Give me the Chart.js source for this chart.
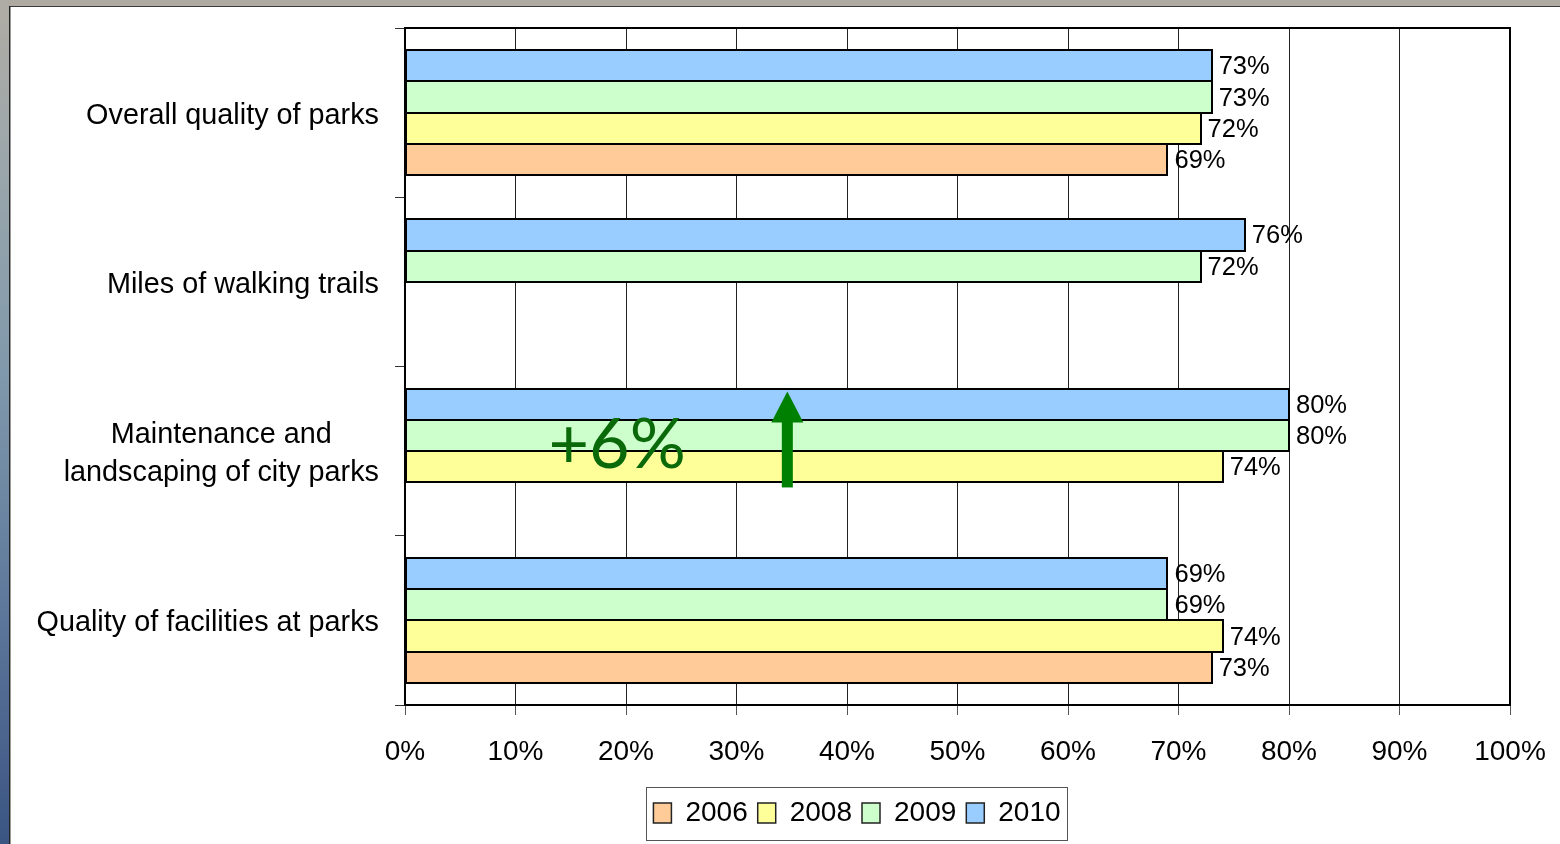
<!DOCTYPE html>
<html>
<head>
<meta charset="utf-8">
<title>Parks ratings</title>
<script src="https://cdn.jsdelivr.net/npm/chart.js@4.4.1/dist/chart.umd.min.js"></script>
<style>
  html, body { margin: 0; padding: 0; width: 1560px; height: 844px; overflow: hidden; background: #fff; }
  #topbar { position: absolute; left: 0; top: 0; width: 1560px; height: 6px; background: #aeaaa2; border-bottom: 1px solid #3a3a3a; }
  #sidebar { position: absolute; left: 0; top: 0; width: 9px; height: 844px;
    background: linear-gradient(#b0aca4 0%, #9aa6ab 20%, #7f98ab 45%, #5f7a9c 70%, #3b5583 100%); }
  #sideline { position: absolute; left: 9px; top: 6px; width: 1px; height: 838px; background: #222; }
  #sideline2 { position: absolute; left: 10px; top: 7px; width: 1px; height: 837px; background: #9a9a9a; }
  #wrap { position: absolute; left: 11px; top: 8px; width: 1549px; height: 836px; }
</style>
</head>
<body>
<div id="topbar"></div>
<div id="sidebar"></div>
<div id="sideline"></div>
<div id="sideline2"></div>
<div id="wrap"><canvas id="chart"></canvas></div>
<script>
// Survey items, top to bottom
const categories = [
  'Overall quality of parks',
  'Miles of walking trails',
  ['Maintenance and', 'landscaping of city parks'],
  'Quality of facilities at parks'
];

// Share of satisfied residents (%) per survey year; null = not asked that year
const values2010 = [73, 76, 80, 69];
const values2009 = [73, 72, 80, 69];
const values2008 = [72, null, 74, 74];
const values2006 = [69, null, null, 73];

const xTickLabels = ['0%', '10%', '20%', '30%', '40%', '50%', '60%', '70%', '80%', '90%', '100%'];

// Call-out on the maintenance item
const changeNote = '+6%';

const FONT = '"Liberation Sans", Arial, Helvetica, sans-serif';
Chart.defaults.font.family = FONT;
Chart.defaults.color = '#000';

// Crisp 2px outline around every bar, drawn from the bar elements
const barOutline = {
  id: 'barOutline',
  afterDatasetsDraw(chart) {
    const ctx = chart.ctx;
    ctx.save();
    ctx.strokeStyle = '#000';
    ctx.lineWidth = 2;
    chart.data.datasets.forEach((ds, di) => {
      chart.getDatasetMeta(di).data.forEach((bar, i) => {
        const v = ds.data[i];
        if (v === null || v === undefined) return;
        const x0 = Math.round(bar.base), x1 = Math.round(bar.x);
        const y0 = Math.round(bar.y - bar.height / 2), y1 = Math.round(bar.y + bar.height / 2);
        ctx.strokeRect(x0, y0, x1 - x0, y1 - y0);
      });
    });
    ctx.restore();
  }
};

// Value labels at the end of each bar
const valueLabels = {
  id: 'valueLabels',
  afterDatasetsDraw(chart) {
    const ctx = chart.ctx;
    ctx.save();
    ctx.font = '25.5px ' + FONT;
    ctx.fillStyle = '#000';
    ctx.textAlign = 'left';
    ctx.textBaseline = 'middle';
    chart.data.datasets.forEach((ds, di) => {
      const meta = chart.getDatasetMeta(di);
      meta.data.forEach((bar, i) => {
        const v = ds.data[i];
        if (v === null || v === undefined) return;
        ctx.fillText(Math.round(v) + '%', bar.x + 7, bar.y + 1.5);
      });
    });
    ctx.restore();
  }
};

// Top and right edges of the plot frame
const plotFrame = {
  id: 'plotFrame',
  beforeDatasetsDraw(chart) {
    const {ctx, chartArea: a} = chart;
    ctx.save();
    ctx.strokeStyle = '#000';
    ctx.lineWidth = 2;
    ctx.beginPath();
    ctx.moveTo(a.left, a.top);
    ctx.lineTo(a.right, a.top);
    ctx.lineTo(a.right, a.bottom);
    ctx.stroke();
    ctx.restore();
  }
};

// Category labels: right-aligned block, lines of a wrapped label centred on each other
const categoryLabels = {
  id: 'categoryLabels',
  afterDraw(chart) {
    const {ctx, chartArea: a} = chart;
    const ys = chart.scales.y;
    ctx.save();
    ctx.font = '28.8px ' + FONT;
    ctx.fillStyle = '#000';
    ctx.textAlign = 'center';
    ctx.textBaseline = 'middle';
    const right = a.left - 26;
    const lineH = 38;
    chart.data.labels.forEach((lab, i) => {
      const lines = Array.isArray(lab) ? lab : [lab];
      const w = Math.max(...lines.map(s => ctx.measureText(s).width));
      const yc = ys.getPixelForTick(i);
      lines.forEach((s, j) => {
        ctx.fillText(s, right - w / 2, yc + 3 + (j - (lines.length - 1) / 2) * lineH);
      });
    });
    ctx.restore();
  }
};

// Legend placement and its surrounding box
const legendBox = {
  id: 'legendBox',
  afterUpdate(chart, args, opts) {
    const lg = chart.legend;
    if (!lg || !lg.legendHitBoxes || !lg.legendHitBoxes.length) return;
    const hb = lg.legendHitBoxes;
    const l = Math.min(...hb.map(h => h.left));
    const r = Math.max(...hb.map(h => h.left + h.width));
    const t = Math.min(...hb.map(h => h.top));
    const b = Math.max(...hb.map(h => h.top + h.height));
    const dx = opts.cx - (l + r) / 2;
    const dy = opts.cy - (t + b) / 2;
    lg.left += dx; lg.right += dx; lg.top += dy; lg.bottom += dy;
    hb.forEach(h => { h.left += dx; h.top += dy; });
  },
  afterDraw(chart, args, opts) {
    const lg = chart.legend;
    if (!lg || !lg.legendHitBoxes || !lg.legendHitBoxes.length) return;
    const hb = lg.legendHitBoxes;
    const l = Math.min(...hb.map(h => h.left)) - 7;
    const r = Math.max(...hb.map(h => h.left + h.width)) + 7;
    const ctx = chart.ctx;
    ctx.save();
    ctx.strokeStyle = '#555';
    ctx.lineWidth = 1;
    ctx.strokeRect(Math.round(l) + 0.5, Math.round(opts.cy - opts.h / 2) + 0.5,
                   Math.round(r - l), opts.h);
    ctx.restore();
  }
};

// "+6%" note with an upward arrow, placed in data space
const changeCallout = {
  id: 'changeCallout',
  afterDatasetsDraw(chart, args, opts) {
    const {ctx} = chart;
    const xs = chart.scales.x;
    const idx = opts.category;
    const topBar = chart.getDatasetMeta(0).data[idx];       // 2010
    const lowBar = chart.getDatasetMeta(2).data[idx];       // 2008
    const tipY = topBar.y - topBar.height / 2 + 3;
    const baseY = lowBar.y + lowBar.height / 2 + 5;
    const ax = xs.getPixelForValue(opts.arrowAt);
    ctx.save();
    ctx.fillStyle = '#008000';
    // shaft
    ctx.fillRect(ax - 5.5, tipY + 28, 11, baseY - tipY - 28);
    // head
    ctx.beginPath();
    ctx.moveTo(ax, tipY);
    ctx.lineTo(ax + 16, tipY + 31);
    ctx.lineTo(ax - 16, tipY + 31);
    ctx.closePath();
    ctx.fill();
    // note text
    ctx.fillStyle = '#0a6a0a';
    ctx.font = '400 70px Lato, "Open Sans", sans-serif';
    ctx.textAlign = 'center';
    ctx.textBaseline = 'alphabetic';
    ctx.fillText(changeNote, xs.getPixelForValue(opts.noteAt), lowBar.y + 1);
    ctx.restore();
  }
};

const data = {
  labels: categories,
  datasets: [
    { label: '2010', data: values2010, backgroundColor: '#99ccff' },
    { label: '2009', data: values2009, backgroundColor: '#ccffcc' },
    { label: '2008', data: values2008, backgroundColor: '#ffff99' },
    { label: '2006', data: values2006, backgroundColor: '#ffcc99' }
  ].map(d => Object.assign(d, {
    borderColor: '#000',
    borderWidth: 0,
    categoryPercentage: 0.74,
    barPercentage: 1
  }))
};

new Chart(document.getElementById('chart'), {
  type: 'bar',
  data,
  plugins: [plotFrame, barOutline, valueLabels, categoryLabels, legendBox, changeCallout],
  options: {
    indexAxis: 'y',
    responsive: true,
    maintainAspectRatio: false,
    animation: false,
    devicePixelRatio: 1,
    layout: { padding: { top: 20, right: 50, left: 0, bottom: 0 } },
    scales: {
      x: {
        min: 0,
        max: 100,
        ticks: {
          stepSize: 10,
          autoSkip: false,
          maxRotation: 0,
          padding: 20,
          color: '#000',
          font: { size: 28 },
          callback: (v, i) => xTickLabels[i]
        },
        grid: { color: '#222', lineWidth: 1, tickLength: 10, tickColor: '#555' },
        border: { color: '#000', width: 2 },
        afterFit(scale) {
          const lg = scale.chart.legend;
          scale.height = 139 - (lg ? lg.height : 0);
          // the right margin comes from the layout padding alone
          scale.paddingLeft = 0;
          scale.paddingRight = 0;
        }
      },
      y: {
        ticks: { display: false },
        grid: { drawOnChartArea: false, tickLength: 10, color: '#333', lineWidth: 1 },
        border: { color: '#000', width: 2 },
        afterFit(scale) { scale.width = 394; }
      }
    },
    plugins: {
      tooltip: { enabled: false },
      legend: {
        position: 'bottom',
        reverse: true,
        labels: {
          boxWidth: 18,
          boxHeight: 20,
          padding: 10,
          color: '#000',
          font: { size: 28 },
          generateLabels(chart) {
            return Chart.defaults.plugins.legend.labels.generateLabels(chart)
              .map(it => Object.assign(it, { lineWidth: 1.5, strokeStyle: '#222' }));
          }
        }
      },
      legendBox: { cx: 846, cy: 805, h: 53 },
      changeCallout: { category: 2, arrowAt: 34.6, noteAt: 19.2 }
    }
  }
});
</script>
</body>
</html>
